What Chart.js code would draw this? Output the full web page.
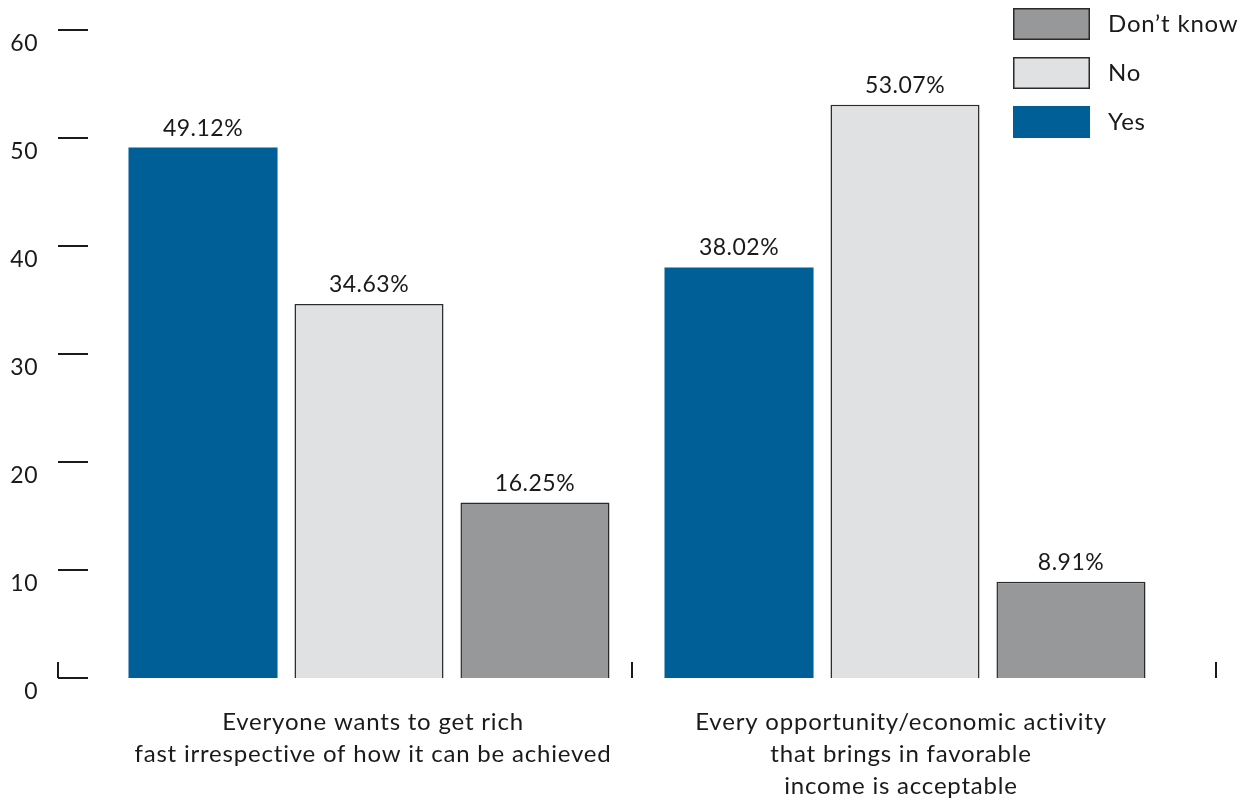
<!DOCTYPE html>
<html>
<head>
<meta charset="utf-8">
<script src="https://cdn.jsdelivr.net/npm/chart.js@4.4.0/dist/chart.umd.min.js"></script>
<style>
  html, body { margin: 0; padding: 0; background: #fff; }
  #wrap { width: 1250px; height: 803px; }
</style>
</head>
<body>
<div id="wrap"><canvas id="mycanvas" width="1250" height="803"></canvas></div>
<script>
var categories = [
    ["Everyone wants to get rich", "fast irrespective of how it can be achieved"],
    ["Every opportunity/economic activity", "that brings in favorable", "income is acceptable"]
];
var yesValues = [49.12, 38.02];
var noValues = [34.63, 53.07];
var dontKnowValues = [16.25, 8.91];
var yTicks = [0, 10, 20, 30, 40, 50, 60];

var NUM_FONT = "23px Lato, sans-serif";
var TEXT_FONT = "24px Lato, sans-serif";

// axis marks, value labels, category text and the legend are drawn by hand
var decorations = {
    id: 'decorations',
    afterDatasetsDraw: function(chart) {
        var ctx = chart.ctx;
        var y = chart.scales.y;
        var x = chart.scales.x;
        ctx.save();
        ctx.strokeStyle = '#1a1a1a';
        ctx.fillStyle = '#1a1a1a';
        ctx.lineWidth = 2;

        // y ticks: short dashes left of the plot with the number a bit below
        ctx.font = NUM_FONT;
        ctx.letterSpacing = '0.5px';
        ctx.textAlign = 'right';
        ctx.textBaseline = 'middle';
        yTicks.forEach(function(v) {
            var py = Math.round(y.getPixelForValue(v));
            ctx.beginPath();
            ctx.moveTo(58, py);
            ctx.lineTo(88, py);
            ctx.stroke();
            ctx.fillText(String(v), 38, py + 14);
        });
        var zero = Math.round(y.getPixelForValue(0));
        ctx.beginPath();
        ctx.moveTo(58, zero - 16);
        ctx.lineTo(58, zero);
        ctx.stroke();

        // group end markers
        [632, 1216].forEach(function(px) {
            ctx.beginPath();
            ctx.moveTo(px, zero - 16);
            ctx.lineTo(px, zero);
            ctx.stroke();
        });

        // percentages over each bar
        ctx.textAlign = 'center';
        ctx.textBaseline = 'alphabetic';
        chart.data.datasets.forEach(function(ds, di) {
            chart.getDatasetMeta(di).data.forEach(function(bar, i) {
                ctx.fillText(ds.data[i].toFixed(2) + '%', bar.x, bar.y - 12);
            });
        });

        // category names under the groups
        ctx.font = TEXT_FONT;
        ctx.letterSpacing = '0.8px';
        ctx.textBaseline = 'middle';
        var nudge = [4, -4];
        categories.forEach(function(lines, i) {
            var cx = x.getPixelForValue(i) + nudge[i];
            lines.forEach(function(t, li) {
                ctx.fillText(t, cx, 722 + li * 32);
            });
        });

        // legend, reversed order
        ctx.textAlign = 'left';
        var items = chart.data.datasets.slice().reverse();
        items.forEach(function(ds, k) {
            var top = 8 + k * 49;
            ctx.fillStyle = ds.backgroundColor;
            ctx.fillRect(1013, top, 77, 32);
            if (ds.borderWidth) {
                ctx.lineWidth = 1.5;
                ctx.strokeStyle = ds.borderColor;
                ctx.strokeRect(1013.75, top + 0.75, 75.5, 30.5);
            }
            ctx.fillStyle = '#1a1a1a';
            ctx.fillText(ds.label, 1108, top + 16);
        });
        ctx.restore();
    }
};

var chartdata = {
    labels: categories,
    datasets: [
        {
            label: 'Yes',
            backgroundColor: '#005f96',
            borderWidth: 0,
            data: yesValues
        },
        {
            label: 'No',
            backgroundColor: '#e0e1e3',
            borderColor: '#2a2a2a',
            borderWidth: 1.5,
            data: noValues
        },
        {
            label: 'Don\u2019t know',
            backgroundColor: '#97989a',
            borderColor: '#2a2a2a',
            borderWidth: 1.5,
            data: dontKnowValues
        }
    ]
};

var ctx = document.getElementById('mycanvas');
var barGraph = new Chart(ctx, {
    type: 'bar',
    data: chartdata,
    options: {
        responsive: false,
        animation: false,
        layout: { padding: { left: 101, right: 77, top: 30, bottom: 125 } },
        categoryPercentage: 0.929,
        barPercentage: 0.898,
        plugins: {
            legend: { display: false },
            tooltip: { enabled: false }
        },
        scales: {
            x: { display: false },
            y: { display: false, min: 0, max: 60 }
        }
    },
    plugins: [decorations]
});
</script>
</body>
</html>
